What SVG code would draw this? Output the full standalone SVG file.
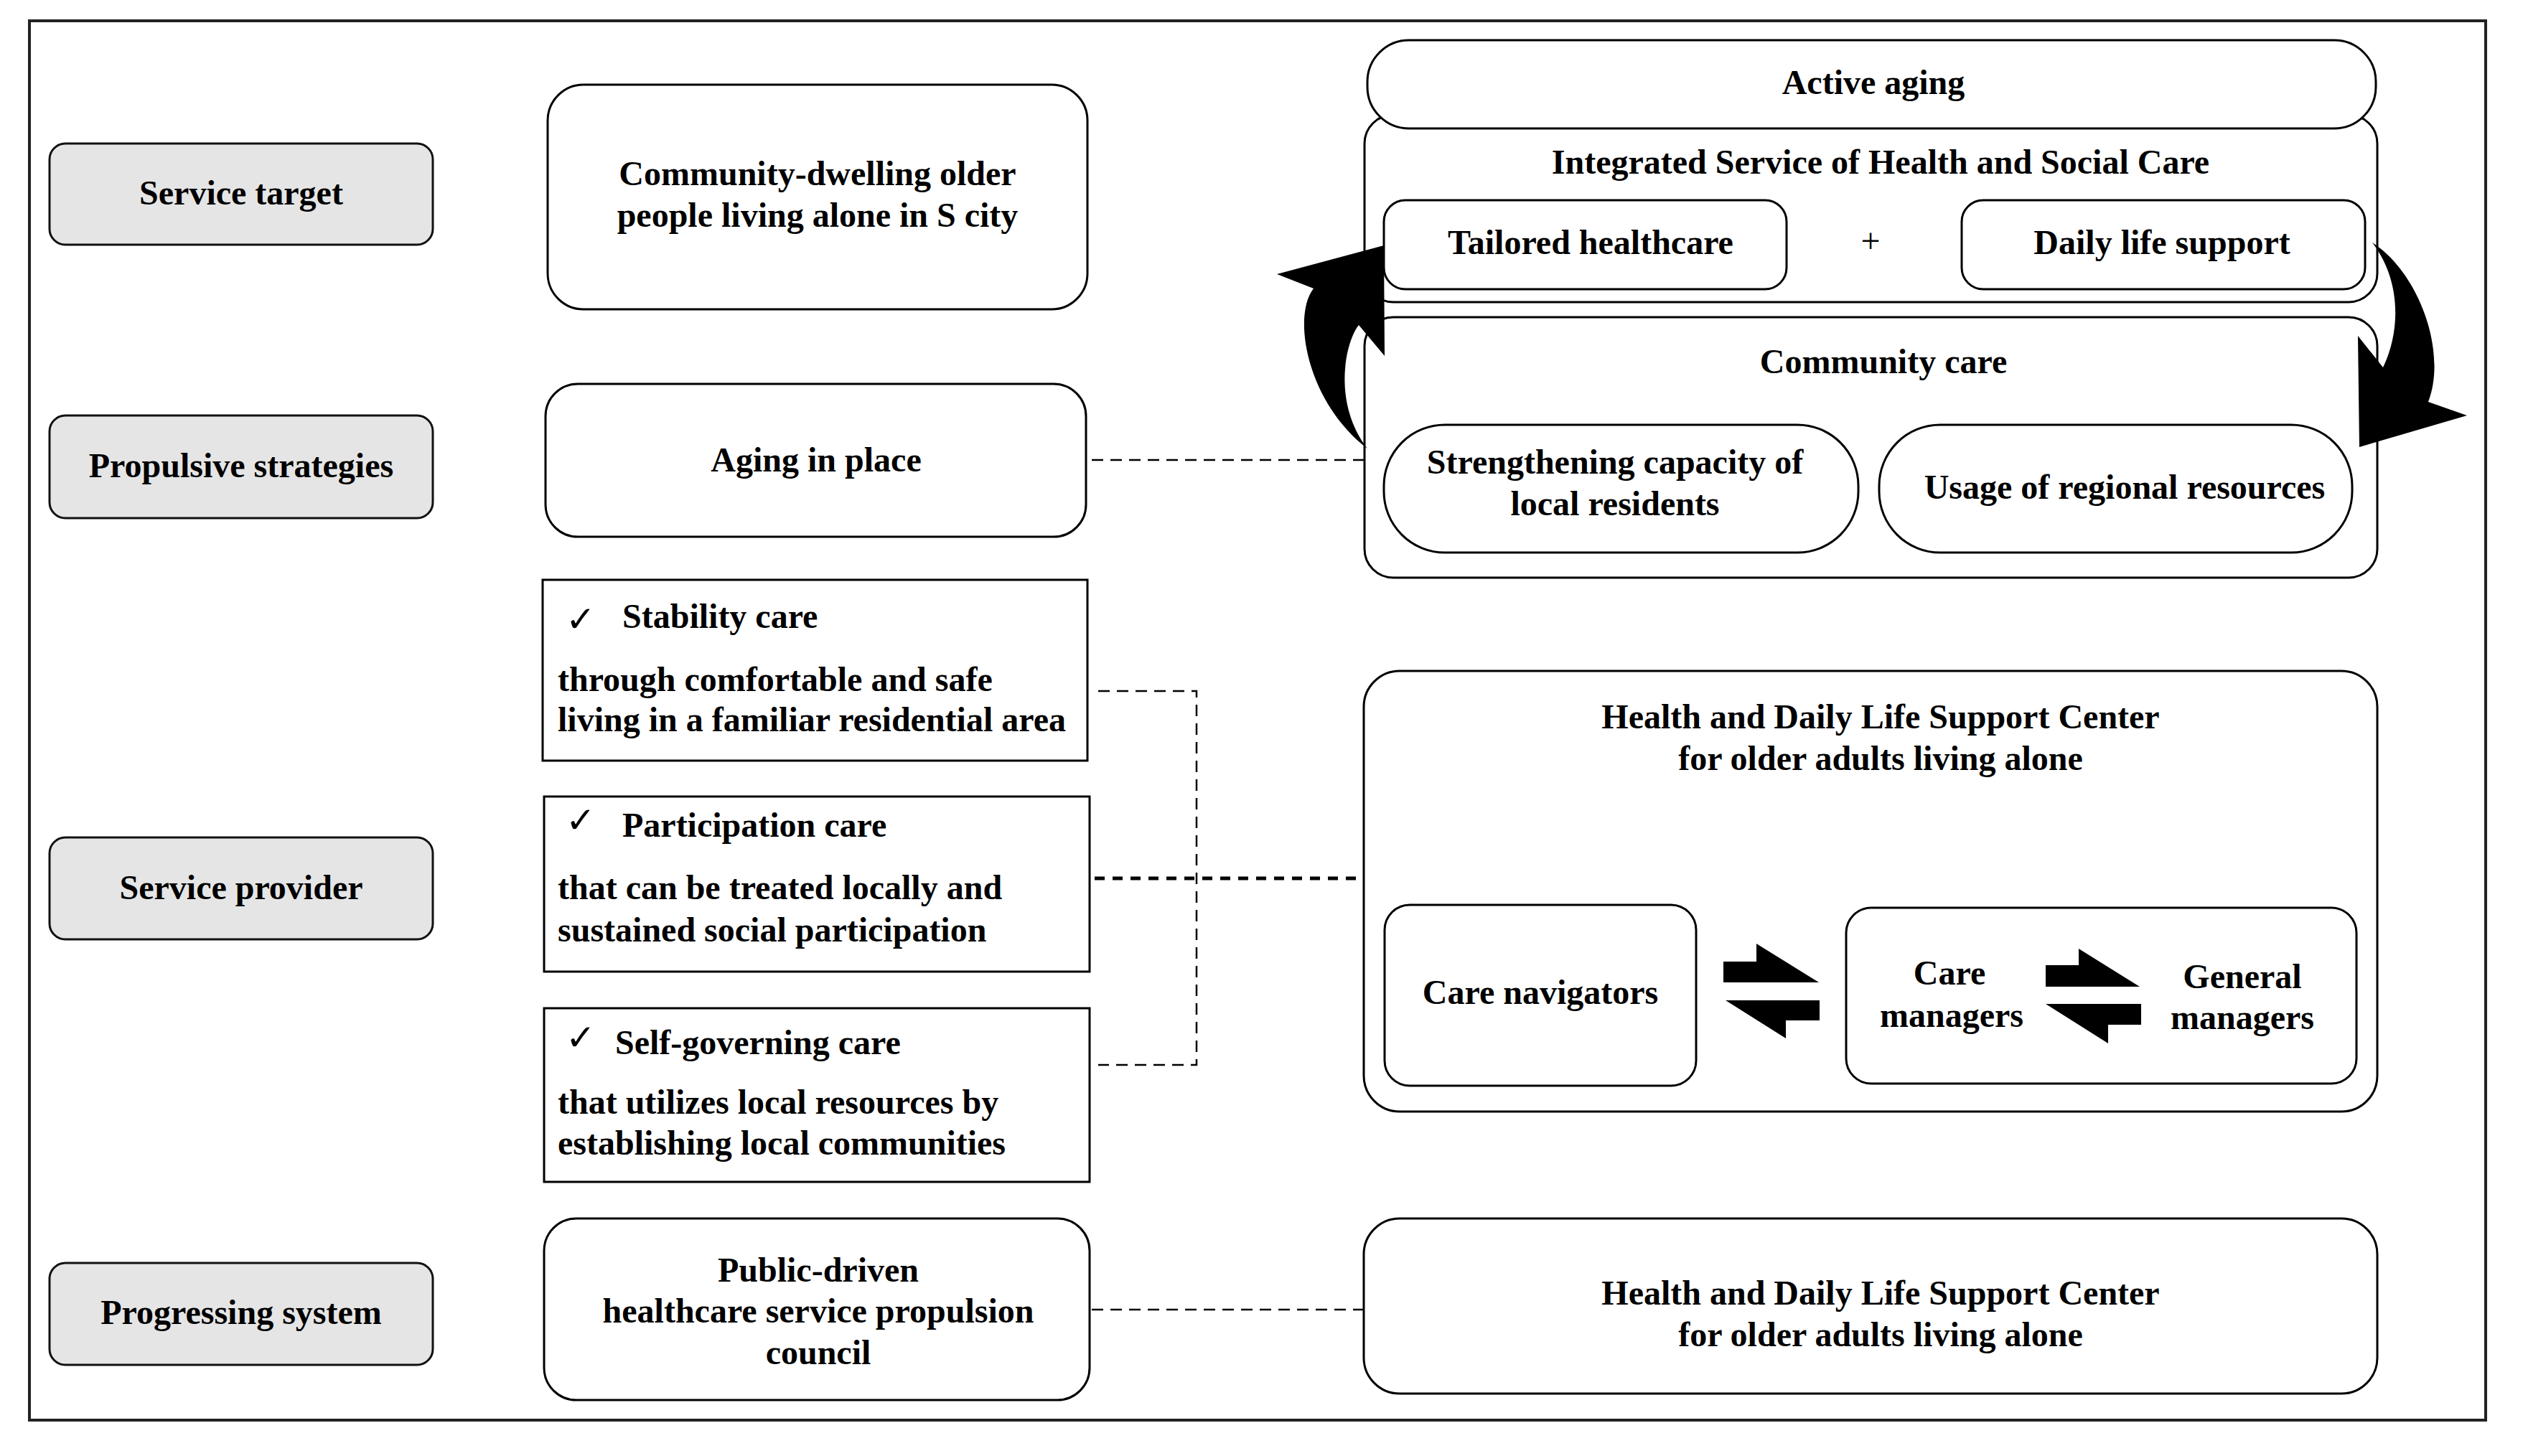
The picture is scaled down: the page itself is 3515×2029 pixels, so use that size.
<svg xmlns="http://www.w3.org/2000/svg" width="3515" height="2029" viewBox="0 0 3515 2029">
<style>
  text { font-family: "Liberation Serif", "Times New Roman", serif; font-weight: bold; font-size: 48px; fill: #000; }
  .c { text-anchor: middle; }
  .box { fill: #fff; stroke: #000; stroke-width: 3; }
  .gray { fill: #e5e5e5; stroke: #111; stroke-width: 3; }
  .dash { fill: none; stroke: #000; stroke-width: 2.5; stroke-dasharray: 16 10; }
  .dashb { fill: none; stroke: #000; stroke-width: 5; stroke-dasharray: 14 11; }
  .chk { font-family: "DejaVu Sans", sans-serif; font-weight: normal; font-size: 50px; }
  .blk { fill: #000; stroke: none; }
</style>
<rect x="0" y="0" width="3515" height="2029" fill="#fff"/>
<rect x="41" y="29" width="3422" height="1950" fill="none" stroke="#222" stroke-width="4"/>

<g id="connectors">
  <path class="dash" d="M1521,641 H1900"/>
  <path class="dash" d="M1530,963 H1667 V1484 H1530"/>
  <path class="dashb" d="M1525,1224 H1899"/>
  <path class="dash" d="M1521,1825 H1899"/>
</g>

<g id="service-target">
  <rect class="gray" x="69" y="200" width="534" height="141" rx="22"/>
  <text class="c" x="336" y="285">Service target</text>
</g>
<g id="propulsive-strategies">
  <rect class="gray" x="69" y="579" width="534" height="143" rx="22"/>
  <text class="c" x="336" y="665">Propulsive strategies</text>
</g>
<g id="service-provider">
  <rect class="gray" x="69" y="1167" width="534" height="142" rx="22"/>
  <text class="c" x="336" y="1253">Service provider</text>
</g>
<g id="progressing-system">
  <rect class="gray" x="69" y="1760" width="534" height="142" rx="22"/>
  <text class="c" x="336" y="1845">Progressing system</text>
</g>

<g id="community-dwelling">
  <rect class="box" x="763" y="118" width="752" height="313" rx="50"/>
  <text class="c" x="1139" y="258">Community-dwelling older</text>
  <text class="c" x="1139" y="316">people living alone in S city</text>
</g>
<g id="aging-in-place">
  <rect class="box" x="760" y="535" width="753" height="213" rx="45"/>
  <text class="c" x="1137" y="657">Aging in place</text>
</g>
<g id="stability-care">
  <rect class="box" x="756" y="808" width="759" height="252"/>
  <text class="chk" x="788" y="880">✓</text>
  <text x="867" y="875">Stability care</text>
  <text x="777" y="963">through comfortable and safe</text>
  <text x="777" y="1019">living in a familiar residential area</text>
</g>
<g id="participation-care">
  <rect class="box" x="758" y="1110" width="760" height="244"/>
  <text class="chk" x="788" y="1160">✓</text>
  <text x="867" y="1166">Participation care</text>
  <text x="777" y="1253">that can be treated locally and</text>
  <text x="777" y="1312">sustained social participation</text>
</g>
<g id="self-governing-care">
  <rect class="box" x="758" y="1405" width="760" height="242"/>
  <text class="chk" x="788" y="1463">✓</text>
  <text x="857" y="1469">Self-governing care</text>
  <text x="777" y="1552">that utilizes local resources by</text>
  <text x="777" y="1609">establishing local communities</text>
</g>
<g id="public-driven">
  <rect class="box" x="758" y="1698" width="760" height="253" rx="45"/>
  <text class="c" x="1140" y="1786">Public-driven</text>
  <text class="c" x="1140" y="1843">healthcare service propulsion</text>
  <text class="c" x="1140" y="1901">council</text>
</g>

<g id="integrated-service">
  <rect class="box" x="1901" y="160" width="1411" height="261" rx="40"/>
  <text class="c" x="2620" y="242">Integrated Service of Health and Social Care</text>
</g>
<g id="active-aging">
  <rect class="box" x="1905" y="56" width="1405" height="123" rx="58"/>
  <text class="c" x="2610" y="131">Active aging</text>
</g>
<g id="tailored-healthcare">
  <rect class="box" x="1928" y="279" width="561" height="124" rx="30"/>
  <text class="c" x="2216" y="354">Tailored healthcare</text>
</g>
<g id="plus">
  <text class="c" x="2606" y="352" style="font-weight:normal">+</text>
</g>
<g id="daily-life-support">
  <rect class="box" x="2733" y="279" width="562" height="124" rx="30"/>
  <text class="c" x="3012" y="354">Daily life support</text>
</g>
<g id="community-care">
  <rect class="box" x="1901" y="442" width="1411" height="363" rx="40"/>
  <text class="c" x="2624" y="520">Community care</text>
</g>
<g id="strengthening-capacity">
  <rect class="box" x="1928" y="592" width="661" height="178" rx="85"/>
  <text class="c" x="2250" y="660">Strengthening capacity of</text>
  <text class="c" x="2250" y="718">local residents</text>
</g>
<g id="usage-regional-resources">
  <rect class="box" x="2618" y="592" width="659" height="178" rx="85"/>
  <text class="c" x="2960" y="695">Usage of regional resources</text>
</g>

<g id="support-center">
  <rect class="box" x="1900" y="935" width="1412" height="614" rx="50"/>
  <text class="c" x="2620" y="1015">Health and Daily Life Support Center</text>
  <text class="c" x="2620" y="1073">for older adults living alone</text>
</g>
<g id="care-navigators">
  <rect class="box" x="1929" y="1261" width="434" height="252" rx="35"/>
  <text class="c" x="2146" y="1399">Care navigators</text>
</g>
<g id="managers">
  <rect class="box" x="2572" y="1265" width="711" height="245" rx="35"/>
  <text class="c" x="2716" y="1372">Care</text>
  <text class="c" x="2719" y="1431">managers</text>
  <text class="c" x="3124" y="1377">General</text>
  <text class="c" x="3124" y="1434">managers</text>
</g>
<g id="support-center-2">
  <rect class="box" x="1900" y="1698" width="1412" height="244" rx="50"/>
  <text class="c" x="2620" y="1818">Health and Daily Life Support Center</text>
  <text class="c" x="2620" y="1876">for older adults living alone</text>
</g>

<g id="arrows">
  <path class="blk" d="M1905,625 C1820,560 1800,440 1830,402 L1779,382 L1928,342 L1929,496 L1893,453 C1875,475 1855,560 1905,625 Z"/>
  <path class="blk" d="M3305,338 C3370,380 3410,490 3383,560 L3437,579 L3287,623 L3285,468 L3320,512 C3345,460 3345,390 3305,338 Z"/>
  <path class="blk" d="M2401,1340 H2447 V1315 L2534,1369 H2401 Z"/>
  <path class="blk" d="M2404,1394 H2535 V1422 H2488 V1447 Z"/>
  <path class="blk" d="M2850,1345 H2896 V1322 L2981,1375 H2850 Z"/>
  <path class="blk" d="M2850,1399 H2983 V1428 H2937 V1454 Z"/>
</g>
</svg>
